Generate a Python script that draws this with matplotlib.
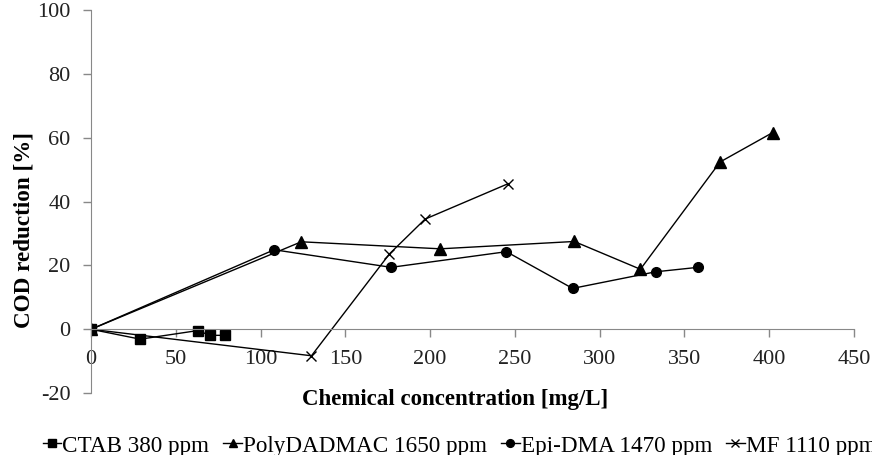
import numpy as np
import matplotlib.pyplot as plt

plt.rcParams['font.family'] = ['Liberation Serif', 'DejaVu Serif']
plt.rcParams['axes.unicode_minus'] = False

# data
ctab_x = [0, 29, 63, 70, 79]
ctab_y = [0, -3.1, -0.4, -1.9, -1.9]

poly_x = [0, 124, 206, 285, 324, 371, 402]
poly_y = [0, 27.4, 25.2, 27.5, 18.8, 52.4, 61.6]

epi_x = [0, 108, 177, 245, 284, 333, 358]
epi_y = [0, 24.9, 19.4, 24.3, 12.8, 18.0, 19.4]

mf_x = [0, 130, 176, 197, 246]
mf_y = [0, -8.3, 23.6, 34.5, 45.6]

labels = ['CTAB 380 ppm', 'PolyDADMAC 1650 ppm', 'Epi-DMA 1470 ppm', 'MF 1110 ppm']

fig = plt.figure(figsize=(8.72, 4.55), dpi=100)
ax = fig.add_axes([0.1044, 0.136, 0.875, 0.842])

lw = 1.0
a, = ax.plot(ctab_x, ctab_y, color='black', lw=lw, marker='s', ms=6.5)
b, = ax.plot(poly_x, poly_y, color='black', lw=lw, marker='^', ms=8)
c, = ax.plot(epi_x, epi_y, color='black', lw=lw, marker='o', ms=7)
d, = ax.plot(mf_x, mf_y, color='black', lw=lw, marker='x', ms=7, mew=1.0)

ax.set_xlim(0, 450)
ax.set_ylim(-20, 100)
ax.set_xticks(np.arange(0, 451, 50))
ax.set_yticks(np.arange(-20, 101, 20))

ax.spines['top'].set_visible(False)
ax.spines['right'].set_visible(False)
ax.spines['bottom'].set_position(('data', 0))
ax.spines['left'].set_color('#888888')
ax.spines['bottom'].set_color('#888888')
ax.tick_params(axis='both', colors='#888888', labelcolor='#222222',
               labelsize=16, length=5.8, width=1)
ax.tick_params(axis='x', pad=9)
ax.tick_params(axis='y', pad=9)

ax.set_xlabel('Chemical concentration [mg/L]', fontsize=16.5, fontweight='bold',
              va='center')
ax.xaxis.set_label_coords(0.477, -0.016)
ax.set_ylabel('COD reduction [%]', fontsize=16.7, fontweight='bold', va='center')
ax.yaxis.set_label_coords(-0.088, 0.426)

fig.legend([a, b, c, d], labels, loc='center left', bbox_to_anchor=(0.049, 0.02),
           ncol=4, frameon=False, fontsize=16.7, handlelength=0.8,
           handletextpad=0.05, columnspacing=0.6, borderaxespad=0, borderpad=0,
           markerscale=0.8)

fig.savefig('out.png', dpi=100)
